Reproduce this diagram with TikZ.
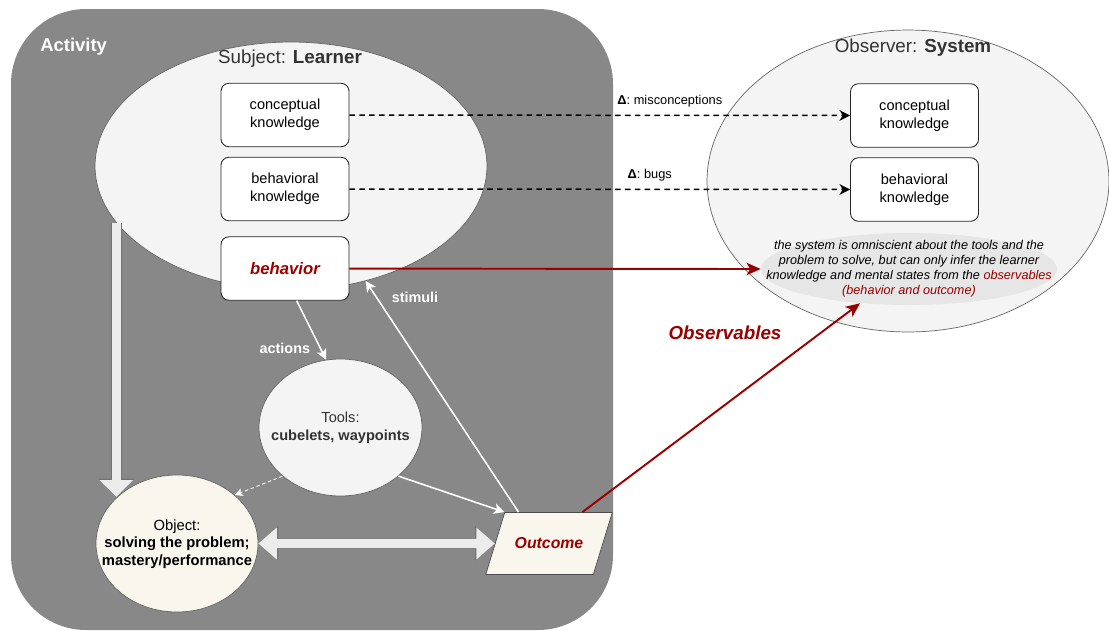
\documentclass[tikz,border=0pt]{standalone}
\usepackage{fontspec}
\setmainfont{Liberation Sans}
\usetikzlibrary{arrows.meta,shapes.geometric,calc}

\definecolor{actgray}{HTML}{888888}
\definecolor{lightfill}{HTML}{F4F4F4}
\definecolor{cream}{HTML}{F9F7ED}
\definecolor{darkred}{HTML}{990000}
\definecolor{paragray}{HTML}{E6E6E6}
\definecolor{fatfill}{HTML}{ECECEC}

\tikzset{
	kbox/.style={draw=black!85, fill=white, rounded corners=4.5pt, minimum width=2.56cm, minimum height=1.27cm, align=center, font=\fontsize{8.3}{10}\selectfont, line width=0.5pt},
	blob/.style={ellipse, draw=black!60, fill=lightfill, line width=0.4pt, inner sep=0},
	title/.style={font=\fontsize{10.7}{12}\selectfont, text=black!80},
	dasharrow/.style={dash pattern=on 3.2pt off 2.4pt, line width=0.85pt, -{Stealth[length=6pt,width=6pt,inset=1.8pt]}},
	redarrow/.style={darkred, line width=1.1pt, -{Stealth[length=8pt,width=7pt,inset=2pt]}},
	whitearrow/.style={white, line width=0.9pt, -{Stealth[length=6pt,width=6pt,inset=1.5pt]}},
	wlabel/.style={text=white, font=\bfseries\fontsize{8.2}{10}\selectfont},
	fatdown/.style={fatfill, line width=5.4pt, -{Triangle[length=9.5pt,width=18.5pt]},
		preaction={draw=black!55, line width=6.2pt, -{Triangle[length=10.3pt,width=19.8pt]}}},
	fatboth/.style={fatfill, line width=5.2pt, {Triangle[length=10.5pt,width=17.5pt]}-{Triangle[length=10.5pt,width=17.5pt]},
		preaction={draw=black!55, line width=6pt, {Triangle[length=11.3pt,width=18.8pt]}-{Triangle[length=11.3pt,width=18.8pt]}}}
}

\begin{document}
\begin{tikzpicture}[x=0.02cm, y=-0.02cm]
	\useasboundingbox (0,0) rectangle (1109,630);
	% activity
	\draw[fill=actgray, draw=none, rounded corners=1.5cm] (11,9) rectangle (613,630);
	\node[anchor=west, inner sep=0, text=white, font=\bfseries\fontsize{10.5}{12}\selectfont] (act) at (40,47) {Activity};
	% learner
	\node[blob, minimum width=7.84cm, minimum height=4.96cm] (learner) at (291,166) {};
	\node[title] (subj) at (290,59) {Subject: \textbf{Learner}};
	\node[kbox] (lck) at (285,115) {conceptual\\knowledge};
	\node[kbox] (lbk) at (285,189) {behavioral\\knowledge};
	\node[kbox, font=\bfseries\itshape\fontsize{9.5}{11}\selectfont, text=darkred] (behav) at (285,268.5) {behavior};
	% tools and object
	\node[blob, minimum width=3.26cm, minimum height=2.74cm] (tools) at (340.5,427.5) {};
	\node[align=center, font=\fontsize{8.3}{10}\selectfont, text=black!80] (toolstxt) at (340.5,428) {Tools:\\\textbf{cubelets, waypoints}};
	\node[blob, fill=cream, minimum width=3.24cm, minimum height=2.74cm] (object) at (177,543.5) {};
	\node[align=center, font=\fontsize{8.4}{10}\selectfont] (objtxt) at (177,544) {Object:\\\textbf{solving the problem;}\\\textbf{mastery/performance}};
	\node[trapezium, trapezium left angle=73, trapezium right angle=107, draw=black!70, fill=cream, inner xsep=5.7pt, inner ysep=14.5pt, text=darkred, font=\bfseries\itshape\fontsize{9}{11}\selectfont] (outcome) at (549,543.5) {Outcome};
	% observer
	\node[blob, minimum width=8.04cm, minimum height=6.04cm] (system) at (908,181) {};
	\node[title] (systitle) at (913,48) {Observer: \textbf{System}};
	\node[kbox] (sck) at (914.5,115.5) {conceptual\\knowledge};
	\node[kbox] (sbk) at (914.5,189.5) {behavioral\\knowledge};
	\node[ellipse, fill=paragray, minimum width=5.92cm, minimum height=1.44cm, inner sep=0] (parabg) at (909,269) {};
	\node[align=center, font=\itshape\fontsize{7.2}{8.5}\selectfont] (para) at (909,269) {the system is omniscient about the tools and the\\problem to solve, but can only infer the learner\\knowledge and mental states from the \textcolor{darkred}{observables}\\\textcolor{darkred}{(behavior and outcome)}};
	\node[text=darkred, font=\bfseries\itshape\fontsize{10.7}{12}\selectfont] (obs) at (725,333) {Observables};
	% connections
	\draw[dasharrow] (lck) -- node[pos=0.64, above=1pt, font=\fontsize{7.3}{9}\selectfont] {\textbf{Δ}: misconceptions} (sck);
	\draw[dasharrow] (lbk) -- node[pos=0.6, above=1pt, font=\fontsize{7.3}{9}\selectfont] {\textbf{Δ}: bugs} (sbk);
	\draw[redarrow] (behav) -- (parabg.west);
	\draw[redarrow] ($(outcome.top left corner)!0.72!(outcome.top right corner)$) -- (parabg.215);
	\draw[whitearrow] (behav.290) -- node[pos=0.8, left=2pt, wlabel] {actions} (tools.102);
	\draw[whitearrow] ($(outcome.top left corner)!0.13!(outcome.top right corner)$) -- node[pos=0.93, right=5pt, wlabel] {stimuli} (learner.303);
	\draw[whitearrow] (tools.320) -- (outcome.top left corner);
	\draw[white, line width=0.5pt, dash pattern=on 2pt off 1.5pt, -{Stealth[length=4.5pt,width=4.5pt,inset=1pt]}] (tools.220) -- (object.40);
	\draw[fatdown] (learner.198) -- (learner.198 |- object.142);
	\draw[fatboth] (object) -- (outcome);
\end{tikzpicture}
\end{document}
